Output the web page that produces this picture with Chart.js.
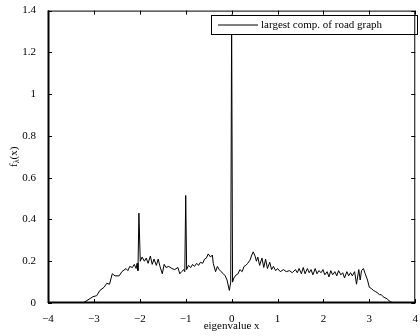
<!DOCTYPE html>
<html>
<head>
<meta charset="utf-8">
<script src="https://cdn.jsdelivr.net/npm/chart.js@4"></script>
<style>
  body { margin: 0; background: #fff; }
  canvas { display: block; }
</style>
</head>
<body>
<canvas id="spectrum" width="420" height="336"></canvas>
<script>
// eigenvalue positions and density
const eigX = [
  -4, -3.24, -3.02, -2.94, -2.87, -2.78, -2.72, -2.66, -2.6, -2.54, -2.45, -2.39, -2.3, -2.26, -2.22, -2.16,
  -2.12, -2.08, -2.06, -2.04, -2.02, -1.99, -1.95, -1.9, -1.86, -1.82, -1.77, -1.73, -1.69, -1.64, -1.6,
  -1.56, -1.51, -1.47, -1.43, -1.37, -1.3, -1.24, -1.17, -1.13, -1.09, -1.04, -1.02, -1.0, -0.98, -0.94,
  -0.89, -0.85, -0.81, -0.76, -0.72, -0.68, -0.63, -0.59, -0.55, -0.51, -0.46, -0.42, -0.4, -0.35, -0.31,
  -0.27, -0.23, -0.18, -0.14, -0.1, -0.05, -0.02, 0, 0.02, 0.05, 0.1, 0.14, 0.18, 0.23, 0.27, 0.31, 0.35,
  0.4, 0.44, 0.47, 0.51, 0.54, 0.57, 0.61, 0.66, 0.7, 0.74, 0.78, 0.83, 0.87, 0.91, 0.96, 1.0, 1.06, 1.13,
  1.19, 1.26, 1.32, 1.39, 1.43, 1.47, 1.52, 1.56, 1.6, 1.65, 1.69, 1.73, 1.77, 1.82, 1.86, 1.9, 1.95, 1.99,
  2.03, 2.08, 2.12, 2.16, 2.2, 2.25, 2.29, 2.33, 2.38, 2.42, 2.46, 2.51, 2.55, 2.59, 2.63, 2.68, 2.72, 2.77,
  2.8, 2.83, 2.87, 2.91, 2.96, 3.0, 3.04, 3.09, 3.13, 3.17, 3.22, 3.26, 3.3, 3.34, 3.39, 3.43, 3.47, 3.52, 4
];
const density = [
  0, 0, 0.03, 0.035, 0.06, 0.075, 0.094, 0.09, 0.14, 0.13, 0.13, 0.15, 0.165, 0.155, 0.175, 0.17,
  0.185, 0.165, 0.19, 0.155, 0.43, 0.2, 0.22, 0.2, 0.215, 0.19, 0.225, 0.185, 0.21, 0.18, 0.21,
  0.175, 0.14, 0.185, 0.17, 0.175, 0.165, 0.16, 0.17, 0.14, 0.15, 0.16, 0.15, 0.515, 0.16, 0.18,
  0.17, 0.185, 0.175, 0.19, 0.18, 0.195, 0.19, 0.21, 0.215, 0.235, 0.22, 0.23, 0.19, 0.15, 0.175,
  0.16, 0.15, 0.14, 0.13, 0.11, 0.06, 0.1, 1.38, 0.1, 0.12, 0.135, 0.14, 0.16, 0.15, 0.175, 0.18, 0.19,
  0.205, 0.23, 0.245, 0.225, 0.2, 0.22, 0.18, 0.215, 0.17, 0.21, 0.165, 0.195, 0.16, 0.175, 0.155, 0.165, 0.15, 0.16,
  0.15, 0.155, 0.145, 0.16, 0.145, 0.165, 0.14, 0.17, 0.14, 0.165, 0.145, 0.16, 0.135, 0.165, 0.14, 0.155, 0.145, 0.16,
  0.135, 0.15, 0.125, 0.155, 0.135, 0.15, 0.13, 0.155, 0.135, 0.145, 0.12, 0.15, 0.13, 0.145, 0.13, 0.15, 0.09, 0.16,
  0.11, 0.155, 0.165, 0.14, 0.11, 0.075, 0.07, 0.06, 0.055, 0.05, 0.04, 0.04, 0.03, 0.025, 0.02, 0.01, 0.005, 0, 0
];
const xTicks = [-4, -3, -2, -1, 0, 1, 2, 3, 4];
const yTicks = [0, 0.2, 0.4, 0.6, 0.8, 1, 1.2, 1.4];
const seriesName = "largest comp. of road graph";

const SERIF = "'Liberation Serif', 'DejaVu Serif', serif";

function fmt(v) {
  const s = String(Math.round(v * 10) / 10);
  return s.replace("-", "\u2212");
}

// matlab style box, inward ticks, legend and axis titles
const matlabFrame = {
  id: "matlabFrame",
  afterDatasetsDraw(chart) {
    const { ctx, chartArea: a, scales } = chart;
    ctx.save();
    ctx.strokeStyle = "#000";
    ctx.lineWidth = 1;

    // legend
    const lx = 211.5, ly = 15.5, lw = 206, lh = 19;
    ctx.fillStyle = "#fff";
    ctx.fillRect(lx, ly, lw, lh);
    ctx.strokeRect(lx, ly, lw, lh);
    ctx.beginPath();
    ctx.moveTo(218, ly + lh / 2);
    ctx.lineTo(258, ly + lh / 2);
    ctx.stroke();
    ctx.fillStyle = "#000";
    ctx.font = "11px " + SERIF;
    ctx.textBaseline = "middle";
    ctx.textAlign = "left";
    ctx.fillText(seriesName, 261, ly + lh / 2 + 0.5);

    // box
    ctx.strokeRect(a.left + 0.5, a.top + 0.5, a.right - a.left - 1, a.bottom - a.top - 1);
    ctx.beginPath();
    ctx.lineWidth = 2;
    ctx.moveTo(a.left, a.bottom - 0.5);
    ctx.lineTo(a.right, a.bottom - 0.5);
    ctx.moveTo(a.left + 0.5, a.top);
    ctx.lineTo(a.left + 0.5, a.bottom);
    ctx.stroke();

    // inward ticks
    ctx.lineWidth = 1;
    ctx.beginPath();
    xTicks.forEach(v => {
      const px = Math.round(scales.x.getPixelForValue(v)) + 0.5;
      ctx.moveTo(px, a.bottom); ctx.lineTo(px, a.bottom - 4);
      ctx.moveTo(px, a.top); ctx.lineTo(px, a.top + 4);
    });
    yTicks.forEach(v => {
      const py = Math.round(scales.y.getPixelForValue(v)) + 0.5;
      ctx.moveTo(a.left, py); ctx.lineTo(a.left + 4, py);
      ctx.moveTo(a.right, py); ctx.lineTo(a.right - 4, py);
    });
    ctx.stroke();

    // x title
    ctx.font = "11px " + SERIF;
    ctx.textAlign = "center";
    ctx.textBaseline = "middle";
    ctx.fillText("eigenvalue x", (a.left + a.right) / 2, 326);

    // y title f_lambda(x), rotated
    ctx.translate(14, (a.top + a.bottom) / 2);
    ctx.rotate(-Math.PI / 2);
    ctx.textAlign = "left";
    const w1 = ctx.measureText("f").width;
    ctx.font = "8px " + SERIF;
    const w2 = ctx.measureText("\u03BB").width;
    ctx.font = "11px " + SERIF;
    const w3 = ctx.measureText("(x)").width;
    let cx = -(w1 + w2 + w3) / 2;
    ctx.fillText("f", cx, 0);
    cx += w1;
    ctx.font = "8px " + SERIF;
    ctx.fillText("\u03BB", cx, 3);
    cx += w2;
    ctx.font = "11px " + SERIF;
    ctx.fillText("(x)", cx, 0);
    ctx.restore();
  }
};

new Chart(document.getElementById("spectrum"), {
  type: "scatter",
  data: {
    datasets: [{
      label: seriesName,
      data: eigX.map((x, i) => ({ x, y: density[i] })),
      showLine: true,
      borderColor: "#000",
      borderWidth: 1,
      pointRadius: 0,
      tension: 0
    }]
  },
  options: {
    responsive: false,
    animation: false,
    layout: { padding: { top: 10, right: 1, left: 0, bottom: 0 } },
    plugins: { legend: { display: false }, tooltip: { enabled: false } },
    scales: {
      x: {
        type: "linear",
        min: -4,
        max: 4,
        afterFit: s => { s.height = 33; },
        afterBuildTicks: s => { s.ticks = xTicks.map(v => ({ value: v })); },
        grid: { display: false },
        border: { display: false },
        ticks: {
          color: "#000",
          padding: 2,
          maxRotation: 0,
          font: { family: SERIF, size: 11 },
          callback: v => fmt(v)
        }
      },
      y: {
        min: 0,
        max: 1.4,
        afterFit: s => { s.width = 48; },
        afterBuildTicks: s => { s.ticks = yTicks.map(v => ({ value: v })); },
        grid: { display: false },
        border: { display: false },
        ticks: {
          color: "#000",
          padding: 4,
          font: { family: SERIF, size: 11 },
          callback: v => fmt(v)
        }
      }
    }
  },
  plugins: [matlabFrame]
});
</script>
</body>
</html>
